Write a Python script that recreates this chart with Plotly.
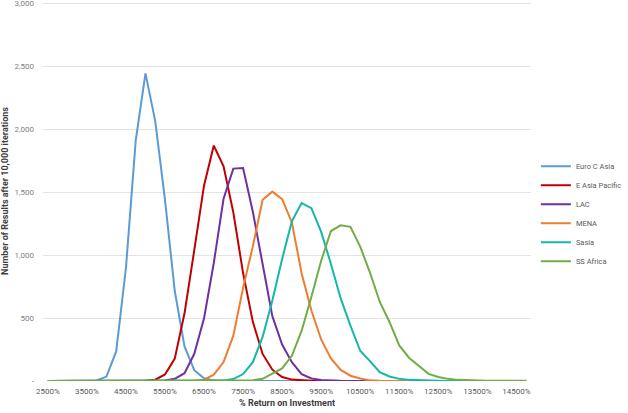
import plotly.graph_objs as go

# % return categories, every 250 points
returns = list(range(2500, 15000, 250))

euro_c_asia = [0, 0, 0, 0, 1, 4, 35, 235, 900, 1910, 2445, 2065, 1440, 715, 275, 86, 22, 5, 1, 0,
               0, 0, 0, 0, 0, 0, 0, 0, 0, 0, 0, 0, 0, 0, 0, 0, 0, 0, 0, 0,
               0, 0, 0, 0, 0, 0, 0, 0, 0, 0]
e_asia_pacific = [0, 0, 0, 0, 0, 0, 0, 0, 0, 0, 2, 10, 52, 178, 538, 1040, 1554, 1871, 1706, 1340,
                  858, 470, 215, 90, 32, 11, 4, 1, 0, 0, 0, 0, 0, 0, 0, 0, 0, 0, 0, 0,
                  0, 0, 0, 0, 0, 0, 0, 0, 0, 0]
lac = [0, 0, 0, 0, 0, 0, 0, 0, 0, 0, 0, 0, 4, 17, 62, 216, 498, 938, 1448, 1688,
       1693, 1345, 928, 515, 290, 150, 55, 20, 8, 3, 1, 0, 0, 0, 0, 0, 0, 0, 0, 0,
       0, 0, 0, 0, 0, 0, 0, 0, 0, 0]
mena = [0, 0, 0, 0, 0, 0, 0, 0, 0, 0, 0, 0, 0, 0, 0, 2, 10, 50, 150, 360,
        740, 1070, 1440, 1505, 1445, 1260, 855, 560, 330, 180, 88, 42, 20, 5, 2, 1, 0, 0, 0, 0,
        0, 0, 0, 0, 0, 0, 0, 0, 0, 0]
sasia = [0, 0, 0, 0, 0, 0, 0, 0, 0, 0, 0, 0, 0, 0, 0, 0, 0, 1, 4, 15,
         55, 150, 350, 640, 970, 1270, 1414, 1374, 1185, 930, 656, 440, 240, 158, 70, 36, 17, 9, 5, 2,
         1, 0, 0, 0, 0, 0, 0, 0, 0, 0]
ss_africa = [0, 0, 0, 0, 0, 0, 0, 0, 0, 0, 0, 0, 0, 0, 0, 0, 0, 0, 0, 1,
             3, 6, 17, 60, 100, 200, 400, 669, 955, 1192, 1237, 1225, 1068, 862, 630, 469, 283, 185, 124, 57,
             32, 17, 9, 5, 3, 2, 1, 1, 2, 1]

x_ticks = list(range(2500, 15500, 1000))
x_tick_labels = [f'{v}%' for v in x_ticks]
y_ticks = [0, 500, 1000, 1500, 2000, 2500, 3000]
y_tick_labels = ['-', '500', '1,000', '1,500', '2,000', '2,500', '3,000']

series = [
    ('Euro C Asia', euro_c_asia, '#5B9BD5'),
    ('E Asia Pacific', e_asia_pacific, '#C00000'),
    ('LAC', lac, '#7030A0'),
    ('MENA', mena, '#ED7D31'),
    ('Sasia', sasia, '#14B8A6'),
    ('SS Africa', ss_africa, '#70AD47'),
]

FONT = 'Roboto, sans-serif'

fig = go.Figure()
for name, vals, color in series:
    fig.add_trace(go.Scatter(x=returns, y=vals, name=name, mode='lines',
                             line=dict(color=color, width=2)))

# a little headroom above 3,000 so its grid line is still drawn
fig.update_layout(
    width=628, height=413,
    margin=dict(l=43, r=76, t=1, b=32),
    paper_bgcolor='white', plot_bgcolor='white',
    font=dict(family=FONT, size=8, color='#595959'),
    showlegend=True,
    legend=dict(x=1.01, xanchor='left', y=0.44, yanchor='middle',
                font=dict(family=FONT, size=7.5, color='#595959'),
                tracegroupgap=0, itemwidth=30, bgcolor='rgba(0,0,0,0)'),
    xaxis=dict(range=[2375, 14875], tickvals=x_ticks, ticktext=x_tick_labels,
               showgrid=False, zeroline=False, showline=False, ticks='',
               automargin=False, ticklabelstandoff=4,
               tickfont=dict(size=8, color='#595959'),
               title=dict(text='<b>% Return on Investment</b>', standoff=4,
                          font=dict(size=9, color='#404040'))),
    yaxis=dict(range=[0, 3020], tickvals=y_ticks, ticktext=y_tick_labels,
               showgrid=True, gridcolor='#E3E3E3', gridwidth=1, zeroline=False,
               showline=False, ticks='', automargin=False, ticklabelstandoff=8,
               ticklabeloverflow='allow',
               tickfont=dict(size=8, color='#7F7F7F'),
               title=dict(text='<b>Number of Results after 10,000 iterations</b>', standoff=6,
                          font=dict(size=9, color='#404040'))),
)

fig.write_html("out.html", config={'displayModeBar': False},
               post_script="document.body.style.margin='0';")
